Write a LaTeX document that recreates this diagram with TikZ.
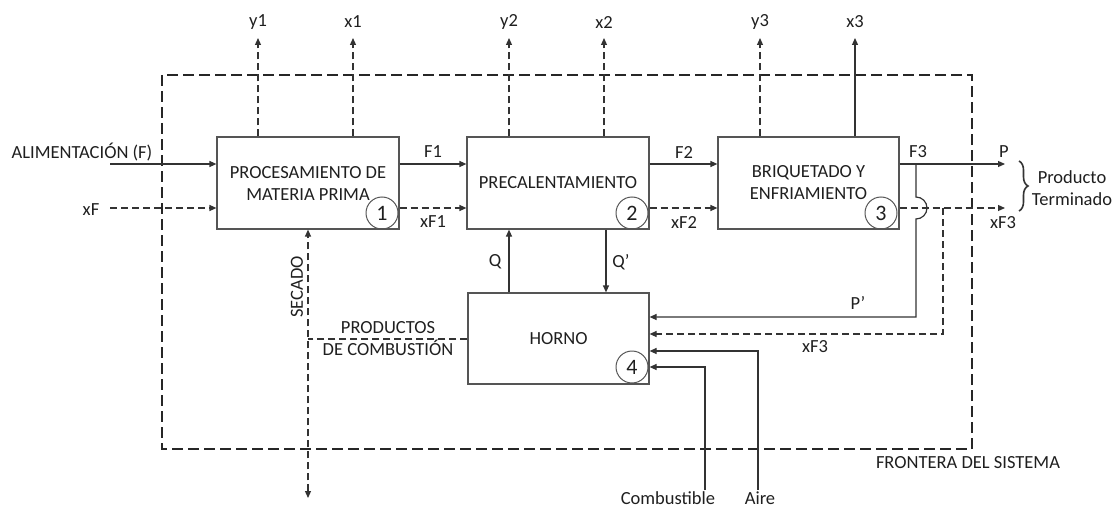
\documentclass[tikz,border=0pt]{standalone}
\usepackage{fontspec}
\setmainfont{Carlito}
\usetikzlibrary{arrows.meta,decorations.pathreplacing}
\definecolor{txt}{HTML}{1F1F1F}
\definecolor{boxc}{HTML}{555555}
\definecolor{linec}{HTML}{333333}
\begin{document}
\begin{tikzpicture}[x=1pt,y=-1pt,
  font=\fontsize{18.5}{22}\selectfont, text=txt,
  proc/.style={draw=boxc, line width=1.2pt, minimum width=182pt, minimum height=92pt, inner sep=0pt, align=center},
  num/.style={draw=boxc, circle, line width=1pt, minimum size=32pt, inner sep=0pt, font=\fontsize{22}{24}\selectfont},
  flow/.style={draw=linec, line width=1.2pt},
  fd/.style={flow, dash pattern=on 7pt off 4pt},
  tip/.style={-{Triangle[length=7pt,width=6pt]}},
  tipboth/.style={{Triangle[length=7pt,width=6pt]}-{Triangle[length=7pt,width=6pt]}},
  lbl/.style={inner sep=0pt, align=center},
  border/.style={draw=black!85, line width=1.8pt, dash pattern=on 11pt off 5pt}]
\useasboundingbox (0,0) rectangle (1113,508);

% system boundary
\draw[border] (162,75) rectangle (972,449);
\node[lbl] (lfr) at (968,463) {FRONTERA DEL SISTEMA};

% process boxes
\node[proc] (b1) at (308,183) {PROCESAMIENTO DE\\MATERIA PRIMA};
\node[proc] (b2) at (558,183) {PRECALENTAMIENTO};
\node[proc, minimum width=181pt] (b3) at (808.5,183) {BRIQUETADO Y\\ENFRIAMIENTO};
\node[proc, minimum width=181pt, minimum height=91pt] (b4) at (558.5,338.5) {HORNO};
\node[num] (n1) at (382,213) {1};
\node[num] (n2) at (632,213) {2};
\node[num] (n3) at (881,213) {3};
\node[num] (n4) at (632,367) {4};

% top outputs
\coordinate (ty1) at (258,38); \node[lbl] (ly1) at (258,22) {y1};
\coordinate (tx1) at (353,38); \node[lbl] (lx1) at (353,22) {x1};
\coordinate (ty2) at (509,38); \node[lbl] (ly2) at (509,22) {y2};
\coordinate (tx2) at (604,38); \node[lbl] (lx2) at (604,22) {x2};
\coordinate (ty3) at (760,38); \node[lbl] (ly3) at (760,22) {y3};
\coordinate (tx3) at (855,38); \node[lbl] (lx3) at (855,22) {x3};
\draw[fd,tip] (b1.north -| ty1) -- (ty1);
\draw[fd,tip] (b1.north -| tx1) -- (tx1);
\draw[fd,tip] (b2.north -| ty2) -- (ty2);
\draw[fd,tip] (b2.north -| tx2) -- (tx2);
\draw[fd,tip] (b3.north -| ty3) -- (ty3);
\draw[flow,tip] (b3.north -| tx3) -- (tx3);

% inputs
\coordinate (sF) at (110,164);
\coordinate (sxF) at (110,208);
\node[lbl] (lF) at (82,152) {ALIMENTACIÓN (F)};
\node[lbl] (lxF) at (91,210) {xF};
\draw[flow,tip] (sF) -- (sF -| b1.west);
\draw[fd,tip] (sxF) -- (sxF -| b1.west);

% between boxes
\draw[flow,tip] (b1.east |- sF) -- (b2.west |- sF);
\draw[fd,tip] (b1.east |- sxF) -- (b2.west |- sxF);
\draw[flow,tip] (b2.east |- sF) -- (b3.west |- sF);
\draw[fd,tip] (b2.east |- sxF) -- (b3.west |- sxF);
\node[lbl] (lF1) at (433,152) {F1};
\node[lbl] (lxF1) at (433,222) {xF1};
\node[lbl] (lF2) at (684,152) {F2};
\node[lbl] (lxF2) at (684,222) {xF2};

% final product
\coordinate (pP) at (1005,164);
\coordinate (pxF3) at (1005,208);
\draw[flow,tip] (b3.east |- pP) -- (pP);
\draw[fd,tip] (b3.east |- pxF3) -- (pxF3);
\node[lbl] (lF3) at (918,152) {F3};
\node[lbl] (lP) at (1004,152) {P};
\node[lbl] (lxF3) at (1003,223) {xF3};
\draw[draw=linec, line width=1.6pt, decorate, decoration={brace,amplitude=9pt}] (1019,161) -- (1019,211);
\node[lbl] (lPT) at (1072,188) {Producto\\Terminado};

% recycle P'
\coordinate (j1) at (916,164);
\draw[flow,tip] (j1) -- (916,197) arc[start angle=90,end angle=-90,radius=11pt] -- (916,317) -- (b4.east |- 0,317);
\node[lbl] (lPp) at (858,303) {P’};
% recycle xF3
\coordinate (j2) at (943,208);
\draw[fd,tip] (j2) -- (943,334) -- (b4.east |- 0,334);
\node[lbl] (lxF3b) at (815,347) {xF3};

% fuel and air
\coordinate (sA) at (758,490);
\coordinate (sC) at (705,490);
\draw[flow,tip] (sA) -- (758,351) -- (b4.east |- 0,351);
\draw[flow,tip] (sC) -- (705,367) -- (b4.east |- 0,367);
\node[lbl] (lC) at (668,498) {Combustible};
\node[lbl] (lA) at (760,498) {Aire};

% heat
\draw[flow,tip] (b4.north -| 509,0) -- (b2.south -| 509,0);
\draw[flow,tip] (b2.south -| 606,0) -- (b4.north -| 606,0);
\node[lbl] (lQ) at (495,262) {Q};
\node[lbl] (lQp) at (621,262) {Q’};

% combustion products / drying
\coordinate (sec) at (308,498);
\coordinate (jp) at (308,339);
\draw[fd] (b4.west |- jp) -- (jp);
\draw[fd,tipboth] (sec) -- (b1.south -| sec);
\node[lbl] (lPC) at (388,339) {PRODUCTOS\\[0pt]DE COMBUSTIÓN};
\node[lbl, rotate=90] (lsec) at (297,287) {SECADO};
\end{tikzpicture}
\end{document}
